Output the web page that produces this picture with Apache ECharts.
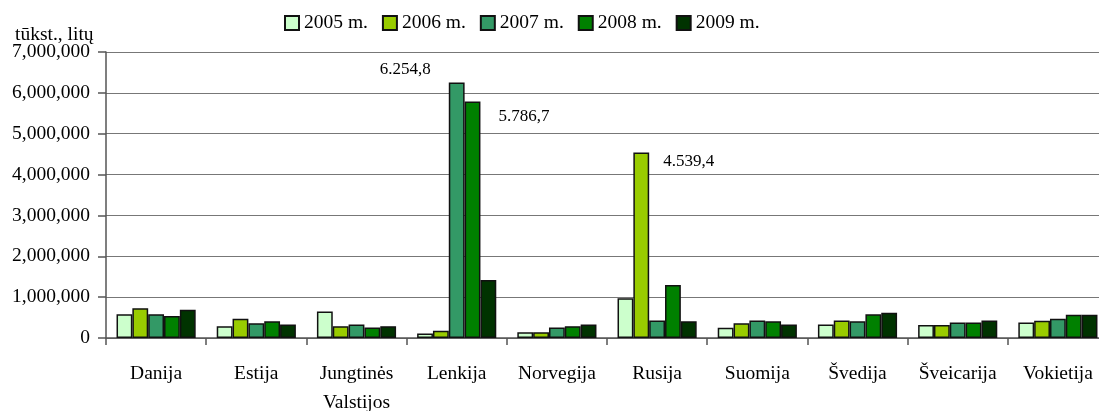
<!DOCTYPE html>
<html>
<head>
<meta charset="utf-8">
<script src="https://cdn.jsdelivr.net/npm/echarts@6/dist/echarts.min.js"></script>
<style>
  html, body { margin: 0; padding: 0; background: #fff; overflow: hidden; }
  #chart { position: absolute; left: 0; top: 0; width: 1099px; height: 411px; }
</style>
</head>
<body>
<div id="chart"></div>
<script>
var countries = ['Danija', 'Estija', 'Jungtinės\nValstijos', 'Lenkija', 'Norvegija', 'Rusija', 'Suomija', 'Švedija', 'Šveicarija', 'Vokietija'];
var years = ['2005 m.', '2006 m.', '2007 m.', '2008 m.', '2009 m.'];
var y2005 = [580000, 290000, 650000, 110000, 140000, 975000, 250000, 330000, 320000, 380000];
var y2006 = [730000, 470000, 290000, 180000, 140000, 4539400, 360000, 430000, 320000, 420000];
var y2007 = [580000, 360000, 330000, 6254800, 260000, 430000, 430000, 410000, 380000, 470000];
var y2008 = [540000, 410000, 260000, 5786700, 290000, 1300000, 410000, 580000, 380000, 570000];
var y2009 = [690000, 330000, 290000, 1420000, 330000, 410000, 330000, 620000, 430000, 570000];
var yTicks = [0, 1000000, 2000000, 3000000, 4000000, 5000000, 6000000, 7000000];

var colors = ['#ccffcc', '#99cc00', '#339966', '#008000', '#003300'];
var font = 'Liberation Serif';

// value labels drawn next to the tallest bars: [series, category, x, y, align]
var callouts = [
    [1, 5, 30, 9, 'left'],
    [2, 3, -18, -13, 'right'],
    [3, 3, 34, 15, 'left']
];

function fmtLabel(v) {
    // 6254800 -> "6.254,8"
    var t = (v / 1000).toFixed(1).split('.');
    return t[0].replace(/\B(?=(\d{3})+(?!\d))/g, '.') + ',' + t[1];
}

var chart = echarts.init(document.getElementById('chart'), null, { width: 1099, height: 411 });
var all = [y2005, y2006, y2007, y2008, y2009];

var series = all.map(function (vals, si) {
    return {
        name: years[si],
        type: 'bar',
        barGap: '0%',
        barCategoryGap: '21%',
        itemStyle: { color: colors[si], borderColor: '#111', borderWidth: 1.5 },
        data: vals.map(function (v, ci) {
            var c = callouts.filter(function (k) { return k[0] === si && k[1] === ci; })[0];
            if (!c) return v;
            return {
                value: v,
                label: {
                    show: true,
                    position: [c[2], c[3]],
                    align: c[4],
                    verticalAlign: 'middle',
                    formatter: function (p) { return fmtLabel(p.value); },
                    color: '#000',
                    fontFamily: font,
                    fontSize: 17
                }
            };
        })
    };
});

var option = {
    animation: false,
    backgroundColor: '#fff',
    textStyle: { fontFamily: font },
    title: {
        text: 'tūkst., litų',
        left: 10,
        top: 20,
        textStyle: { fontFamily: font, fontSize: 19.5, fontWeight: 'normal', color: '#000' }
    },
    legend: {
        data: years,
        left: 284,
        top: 13,
        padding: 0,
        icon: 'rect',
        itemWidth: 14,
        itemHeight: 14,
        itemGap: 14,
        textStyle: { fontFamily: font, fontSize: 19.5, color: '#000' }
    },
    // the original plot runs past the right edge and its labels past the bottom
    grid: { left: 106, right: -9, top: 52, bottom: 73, containLabel: false, outerBoundsMode: 'none' },
    xAxis: {
        type: 'category',
        data: countries,
        axisLine: { lineStyle: { color: '#555', width: 1.5 } },
        axisTick: { show: true, length: 7, lineStyle: { color: '#555', width: 1.5 } },
        axisLabel: { color: '#000', fontFamily: font, fontSize: 19.5, margin: 21, lineHeight: 29, interval: 0 }
    },
    yAxis: {
        type: 'value',
        min: yTicks[0],
        max: yTicks[yTicks.length - 1],
        interval: yTicks[1] - yTicks[0],
        axisLine: { show: true, lineStyle: { color: '#555', width: 1.5 } },
        axisTick: { show: true, length: 8, lineStyle: { color: '#555', width: 1.5 } },
        splitLine: { lineStyle: { color: '#777', width: 1 } },
        axisLabel: {
            color: '#000',
            fontFamily: font,
            fontSize: 19.5,
            margin: 16,
            formatter: function (v) { return v.toString().replace(/\B(?=(\d{3})+(?!\d))/g, ','); }
        }
    },
    series: series
};
chart.setOption(option);
</script>
</body>
</html>
